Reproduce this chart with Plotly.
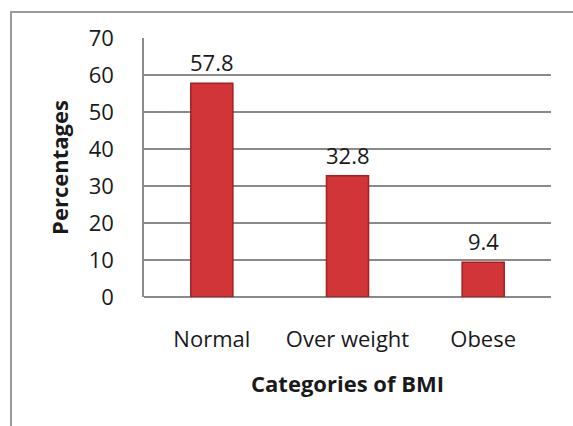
import plotly.graph_objects as go

categories = ["Normal", "Over weight", "Obese"]
values = [57.8, 32.8, 9.4]
value_labels = ["57.8", "32.8", "9.4"]
y_ticks = [0, 10, 20, 30, 40, 50, 60, 70]

W, H = 573, 426
L, R, T, B = 144, 22, 38, 129
pw, ph = W - L - R, H - T - B

FONT = "'Open Sans', Lato, sans-serif"
FS = 22

fig = go.Figure()
fig.add_trace(go.Bar(
    x=categories, y=values,
    marker=dict(color="#D23538", line=dict(color="#A21F22", width=1.5)),
    width=0.31,
    hoverinfo="skip",
))

for c, v, t in zip(categories, values, value_labels):
    fig.add_annotation(x=c, y=v, text=t, showarrow=False, yanchor="bottom",
                       yshift=4, font=dict(size=FS, color="#1a1a1a", family=FONT))

# outer chart border
fig.add_shape(type="rect", xref="paper", yref="paper",
              x0=(11 - L) / pw, x1=(W + 5 - L) / pw,
              y0=-(H + 5 - T - ph) / ph, y1=(H - 12 - B) / ph,
              line=dict(color="#9a9a9a", width=2), layer="above")

fig.update_layout(
    width=W, height=H,
    margin=dict(l=L, r=R, t=T, b=B, autoexpand=False),
    paper_bgcolor="white", plot_bgcolor="white",
    showlegend=False,
    font=dict(family=FONT, size=FS, color="#1a1a1a"),
    xaxis=dict(
        automargin=False,
        showgrid=False, showline=False, ticks="",
        ticklabelstandoff=27,
        tickfont=dict(size=FS),
        title=dict(text="<b>Categories of BMI</b>", font=dict(size=FS), standoff=24),
    ),
    yaxis=dict(
        automargin=False,
        range=[0, 70], tickvals=y_ticks,
        showgrid=True, gridcolor="#8a8a8a", gridwidth=1.5,
        showline=True, linecolor="#8a8a8a", linewidth=1.5,
        zeroline=True, zerolinecolor="#8a8a8a", zerolinewidth=1.5,
        ticks="", ticklabelstandoff=24,
        tickfont=dict(size=FS),
        title=dict(text="<b>Percentages</b>", font=dict(size=FS), standoff=14),
    ),
)

fig.write_html("out.html", config={"displayModeBar": False},
               post_script="document.body.style.margin='0';")
